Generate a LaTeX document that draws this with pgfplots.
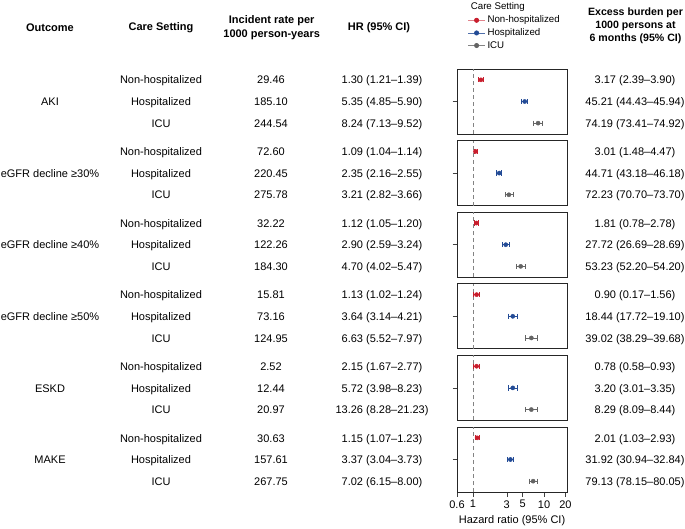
\documentclass[border=0pt]{standalone}
\usepackage{fontspec}
\setmainfont{Liberation Sans}
\usepackage{pgfplots}
\pgfplotsset{compat=1.18}
\definecolor{cred}{RGB}{200,30,45}
\definecolor{cblue}{RGB}{35,75,150}
\definecolor{cgray}{RGB}{100,100,100}

% color, y, hr, lo, hi
\newcommand{\ci}[5]{%
 \addplot[#1, line width=0.7pt, mark=|, mark size=2.6pt, mark options={solid,line width=0.7pt}] coordinates {(#4,#2) (#5,#2)};
 \addplot[#1, only marks, mark=*, mark size=2.1pt, mark options={fill=#1,draw=#1}] coordinates {(#3,#2)};
}
\newcommand{\refline}{\addplot[cgray!80, line width=0.6pt, dash pattern=on 4pt off 3pt] coordinates {(1,0.5) (1,3.5)};}

% center y, setting, incidence, hr, excess
\newcommand{\rowtext}[5]{%
 \node[anchor=base] at (161pt,-#1pt-4pt) {#2};
 \node[anchor=base] at (271pt,-#1pt-4pt) {#3};
 \node[anchor=base] at (382pt,-#1pt-4pt) {#4};
 \node[anchor=base] at (635pt,-#1pt-4pt) {#5};}

\pgfplotsset{every axis/.append style={width=110pt,height=65pt,scale only axis,
  xmin=0.6, xmax=21, ymin=0.5, ymax=3.5,
  ytick={2}, yticklabels={}, ytick pos=left, xtick=\empty, xtick pos=bottom,
  tick align=outside, major tick length=4.5pt,
  axis line style={line width=0.9pt, black!85},
  tick style={line width=0.6pt, black!75},
  clip=false, anchor=north west}}

\begin{document}
\fontsize{11}{13.4}\selectfont
\begin{tikzpicture}
\useasboundingbox (0,0) rectangle (685pt,-529pt);

% headers
\begin{scope}[every node/.style={font=\bfseries\fontsize{11}{13.4}\selectfont, align=center}]
\node at (50pt,-27.7pt) {Outcome};
\node at (161pt,-27.7pt) {Care Setting};
\node at (271.7pt,-27.5pt) {Incident rate per\\1000 person-years};
\node at (379pt,-27.7pt) {HR (95\% CI)};
\end{scope}
\node[font=\bfseries\fontsize{10.6}{13.2}\selectfont, align=center] at (635.5pt,-26pt) {Excess burden per\\1000 persons at\\6 months (95\% CI)};
\node[anchor=base west, font=\fontsize{9.7}{11}\selectfont] at (467pt,-9.3pt) {Care Setting};

% Panel 1: AKI
\begin{semilogxaxis}[at={(457pt,-69pt)},
  legend style={at={(axis description cs:0.095,1.85)}, anchor=north west, draw=none, fill=none,
   inner sep=0pt, row sep=0pt, font=\fontsize{9.7}{11}\selectfont},
  legend cell align=left]
\addlegendimage{color=cred!55, line width=0.8pt, mark=*, mark size=2.1pt, mark options={fill=cred,draw=cred}}
\addlegendentry{Non-hospitalized}
\addlegendimage{color=cblue!80, line width=0.8pt, mark=*, mark size=2.1pt, mark options={fill=cblue,draw=cblue}}
\addlegendentry{Hospitalized}
\addlegendimage{color=cgray!80, line width=0.8pt, mark=*, mark size=2.1pt, mark options={fill=cgray,draw=cgray}}
\addlegendentry{ICU}
\refline
\ci{cred}{3}{1.30}{1.21}{1.39}
\ci{cblue}{2}{5.35}{4.85}{5.90}
\ci{cgray}{1}{8.24}{7.13}{9.52}
\end{semilogxaxis}

% Panel 2: eGFR 30
\begin{semilogxaxis}[at={(457pt,-140.6pt)}]
\refline
\ci{cred}{3}{1.09}{1.04}{1.14}
\ci{cblue}{2}{2.35}{2.16}{2.55}
\ci{cgray}{1}{3.21}{2.82}{3.66}
\end{semilogxaxis}

% Panel 3: eGFR 40
\begin{semilogxaxis}[at={(457pt,-212.2pt)}]
\refline
\ci{cred}{3}{1.12}{1.05}{1.20}
\ci{cblue}{2}{2.90}{2.59}{3.24}
\ci{cgray}{1}{4.70}{4.02}{5.47}
\end{semilogxaxis}

% Panel 4: eGFR 50
\begin{semilogxaxis}[at={(457pt,-283.8pt)}]
\refline
\ci{cred}{3}{1.13}{1.02}{1.24}
\ci{cblue}{2}{3.64}{3.14}{4.21}
\ci{cgray}{1}{6.63}{5.52}{7.97}
\end{semilogxaxis}

% Panel 5: ESKD (as drawn in the reference)
\begin{semilogxaxis}[at={(457pt,-355.4pt)}]
\refline
\ci{cred}{3}{1.13}{1.02}{1.24}
\ci{cblue}{2}{3.64}{3.14}{4.21}
\ci{cgray}{1}{6.63}{5.52}{7.97}
\end{semilogxaxis}

% Panel 6: MAKE
\begin{semilogxaxis}[at={(457pt,-427pt)},
  xtick={0.6,1,3,5,10,20}, xticklabels={0.6,1,3,5,10,20},
  xlabel={Hazard ratio (95\% CI)},
  xticklabel style={font=\fontsize{11}{13.4}\selectfont},
  xlabel style={font=\fontsize{11}{13.4}\selectfont}]
\refline
\ci{cred}{3}{1.15}{1.07}{1.23}
\ci{cblue}{2}{3.37}{3.04}{3.73}
\ci{cgray}{1}{7.02}{6.15}{8.00}
\end{semilogxaxis}

% table text
\node[anchor=base] at (50pt,-101.7pt-4pt) {AKI};
\rowtext{80}{Non-hospitalized}{29.46}{1.30 (1.21–1.39)}{3.17 (2.39–3.90)}
\rowtext{101.7}{Hospitalized}{185.10}{5.35 (4.85–5.90)}{45.21 (44.43–45.94)}
\rowtext{123.3}{ICU}{244.54}{8.24 (7.13–9.52)}{74.19 (73.41–74.92)}

\node[anchor=base] at (50pt,-173.3pt-4pt) {eGFR decline ≥30\%};
\rowtext{151.6}{Non-hospitalized}{72.60}{1.09 (1.04–1.14)}{3.01 (1.48–4.47)}
\rowtext{173.3}{Hospitalized}{220.45}{2.35 (2.16–2.55)}{44.71 (43.18–46.18)}
\rowtext{194.9}{ICU}{275.78}{3.21 (2.82–3.66)}{72.23 (70.70–73.70)}

\node[anchor=base] at (50pt,-244.9pt-4pt) {eGFR decline ≥40\%};
\rowtext{223.2}{Non-hospitalized}{32.22}{1.12 (1.05–1.20)}{1.81 (0.78–2.78)}
\rowtext{244.9}{Hospitalized}{122.26}{2.90 (2.59–3.24)}{27.72 (26.69–28.69)}
\rowtext{266.5}{ICU}{184.30}{4.70 (4.02–5.47)}{53.23 (52.20–54.20)}

\node[anchor=base] at (50pt,-316.5pt-4pt) {eGFR decline ≥50\%};
\rowtext{294.8}{Non-hospitalized}{15.81}{1.13 (1.02–1.24)}{0.90 (0.17–1.56)}
\rowtext{316.5}{Hospitalized}{73.16}{3.64 (3.14–4.21)}{18.44 (17.72–19.10)}
\rowtext{338.1}{ICU}{124.95}{6.63 (5.52–7.97)}{39.02 (38.29–39.68)}

\node[anchor=base] at (50pt,-388.1pt-4pt) {ESKD};
\rowtext{366.4}{Non-hospitalized}{2.52}{2.15 (1.67–2.77)}{0.78 (0.58–0.93)}
\rowtext{388.1}{Hospitalized}{12.44}{5.72 (3.98–8.23)}{3.20 (3.01–3.35)}
\rowtext{409.7}{ICU}{20.97}{13.26 (8.28–21.23)}{8.29 (8.09–8.44)}

\node[anchor=base] at (50pt,-459.7pt-4pt) {MAKE};
\rowtext{438}{Non-hospitalized}{30.63}{1.15 (1.07–1.23)}{2.01 (1.03–2.93)}
\rowtext{459.7}{Hospitalized}{157.61}{3.37 (3.04–3.73)}{31.92 (30.94–32.84)}
\rowtext{481.3}{ICU}{267.75}{7.02 (6.15–8.00)}{79.13 (78.15–80.05)}
\end{tikzpicture}
\end{document}
